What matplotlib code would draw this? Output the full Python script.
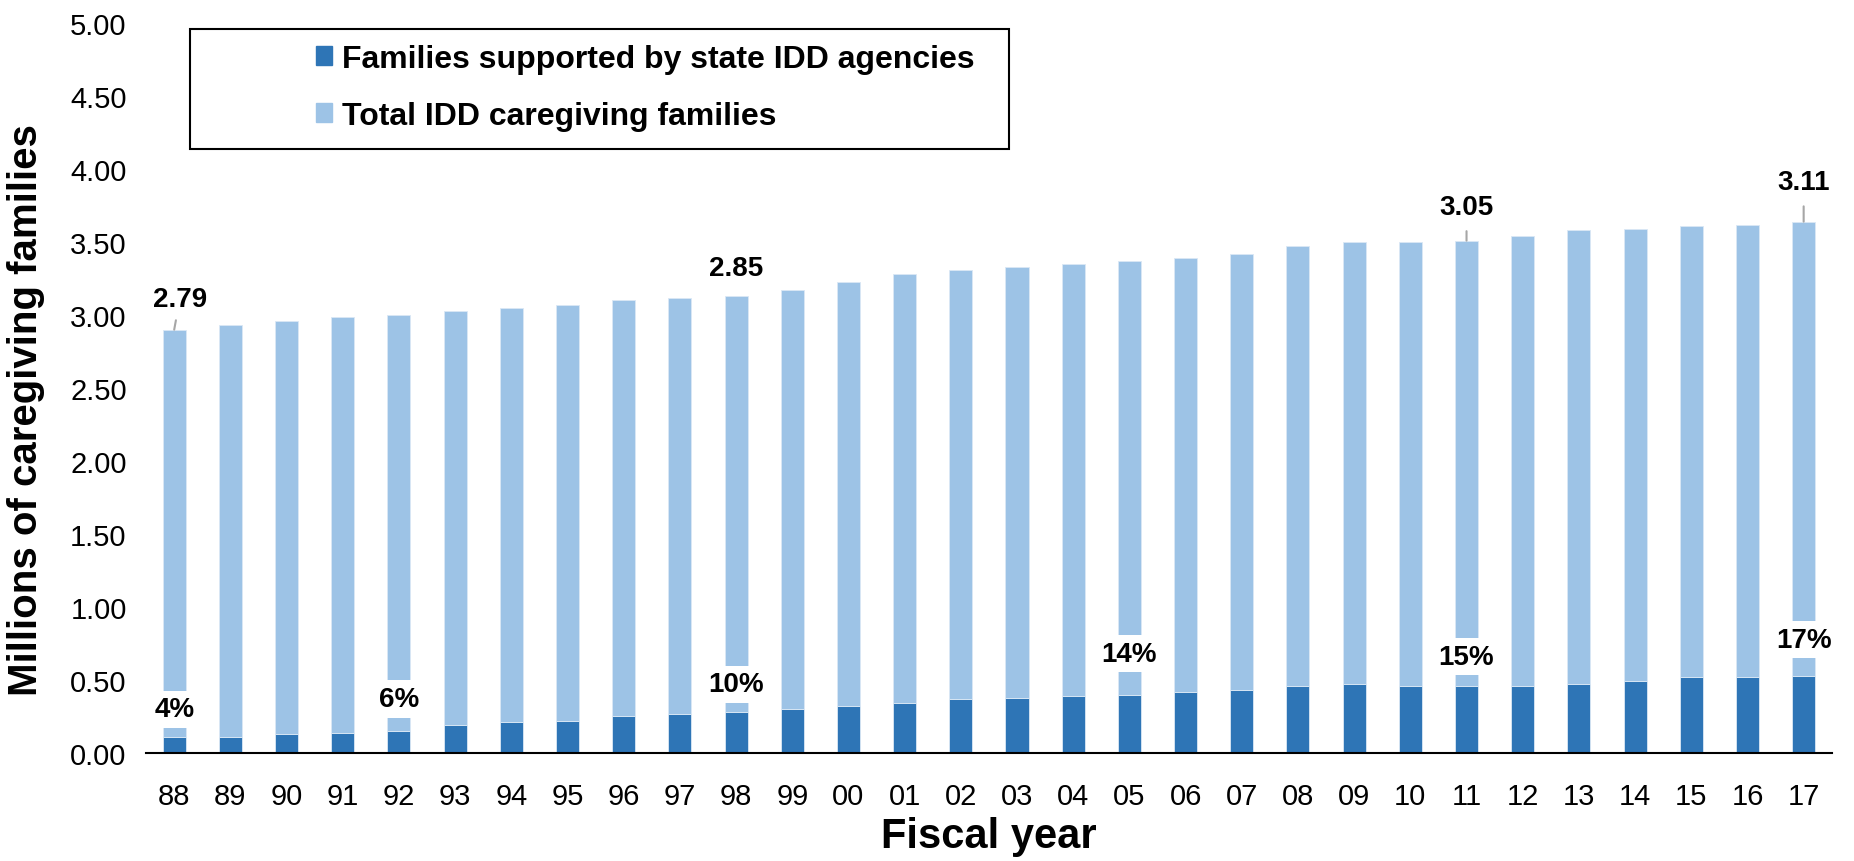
import matplotlib
matplotlib.use('Agg')
import matplotlib.pyplot as plt
from matplotlib.patches import Rectangle
import numpy as np

plt.rcParams['font.family'] = ['Liberation Sans', 'DejaVu Sans']

# fiscal years and values (millions of families)
years = ['88', '89', '90', '91', '92', '93', '94', '95', '96', '97',
         '98', '99', '00', '01', '02', '03', '04', '05', '06', '07',
         '08', '09', '10', '11', '12', '13', '14', '15', '16', '17']
supported = [0.11, 0.11, 0.13, 0.14, 0.15, 0.19, 0.21, 0.22, 0.25, 0.27,
             0.28, 0.30, 0.32, 0.34, 0.37, 0.38, 0.39, 0.40, 0.42, 0.43,
             0.46, 0.47, 0.46, 0.46, 0.46, 0.47, 0.49, 0.52, 0.52, 0.53]
total = [2.79, 2.82, 2.83, 2.85, 2.85, 2.84, 2.84, 2.85, 2.85, 2.85,
         2.85, 2.87, 2.91, 2.94, 2.94, 2.95, 2.96, 2.97, 2.97, 2.99,
         3.01, 3.03, 3.04, 3.05, 3.08, 3.11, 3.10, 3.09, 3.10, 3.11]

# labelled bars
value_idx = [0, 10, 23, 29]
pct_idx = [0, 4, 10, 17, 23, 29]
pct_text = ['4%', '6%', '10%', '14%', '15%', '17%']
pct_y = [0.30, 0.37, 0.47, 0.68, 0.66, 0.775]

dark = '#2E75B6'
light = '#9DC3E6'

fig = plt.figure(figsize=(18.54, 8.62), dpi=100)
ax = fig.add_axes([0.0788, 0.1253, 0.9092, 0.8467])

x = np.arange(len(years))
ax.bar(x, supported, width=0.41, color=dark, edgecolor='#dbe8f5', linewidth=0.6, zorder=2)
ax.bar(x, total, width=0.41, bottom=supported, color=light, edgecolor='#dbe8f5',
       linewidth=0.6, zorder=2)

ax.set_xlim(-0.5, len(years) - 0.5)
ax.set_ylim(0, 5)
ax.set_yticks(np.arange(0, 5.01, 0.5))
ax.set_yticklabels(['%.2f' % v for v in np.arange(0, 5.01, 0.5)])
ax.set_xticks(x)
ax.set_xticklabels(years)
ax.tick_params(axis='both', length=0, labelsize=21)
ax.tick_params(axis='x', pad=21)
ax.tick_params(axis='y', pad=14)
for s in ['top', 'right', 'left']:
    ax.spines[s].set_visible(False)
ax.spines['bottom'].set_linewidth(1.5)
ax.spines['bottom'].set_zorder(3)

ax.set_ylabel('Millions of caregiving families', fontsize=29, fontweight='bold')
ax.yaxis.set_label_coords(-0.06, 0.471)
ax.set_xlabel('Fiscal year', fontsize=30, fontweight='bold', labelpad=4)

# percentage labels with white box
for i, t, yy in zip(pct_idx, pct_text, pct_y):
    ax.text(x[i], yy, t, ha='center', va='center', fontsize=20, fontweight='bold',
            zorder=4, bbox=dict(facecolor='white', edgecolor='none', pad=4))

# value labels
tops = [s + t for s, t in zip(supported, total)]
for i in value_idx:
    lab = '%.2f' % total[i]
    if i == 10:
        ax.text(x[i], tops[i] + 0.19, lab, ha='center', va='center', fontsize=20,
                fontweight='bold', zorder=4)
    elif i == 0:
        ax.annotate(lab, xy=(x[i], tops[i]), xytext=(x[i] + 0.1, tops[i] + 0.21),
                    ha='center', va='center', fontsize=20, fontweight='bold', zorder=4,
                    arrowprops=dict(arrowstyle='-', color='#a6a6a6', lw=1.5,
                                    shrinkA=4, shrinkB=0))
    else:
        off = 0.23 if i == 23 else 0.27
        ax.annotate(lab, xy=(x[i], tops[i]), xytext=(x[i], tops[i] + off),
                    ha='center', va='center', fontsize=20, fontweight='bold', zorder=4,
                    arrowprops=dict(arrowstyle='-', color='#a6a6a6', lw=1.5,
                                    shrinkA=6, shrinkB=0))

# legend
handles = [Rectangle((0, 0), 1, 1, color=dark), Rectangle((0, 0), 1, 1, color=light)]
ax.legend(handles, ['Families supported by state IDD agencies', 'Total IDD caregiving families'],
          loc='center left', bbox_to_anchor=(0.101, 0.912), frameon=False,
          prop={'size': 23, 'weight': 'bold'}, handlelength=0.5, handleheight=0.55,
          handletextpad=0.3, labelspacing=0.85, borderpad=0, borderaxespad=0)
ax.add_patch(Rectangle((0.026, 0.827), 0.486, 0.165, transform=ax.transAxes, fill=False,
                       edgecolor='black', linewidth=1.5, clip_on=False, zorder=5))

fig.savefig('out.png', dpi=100)
